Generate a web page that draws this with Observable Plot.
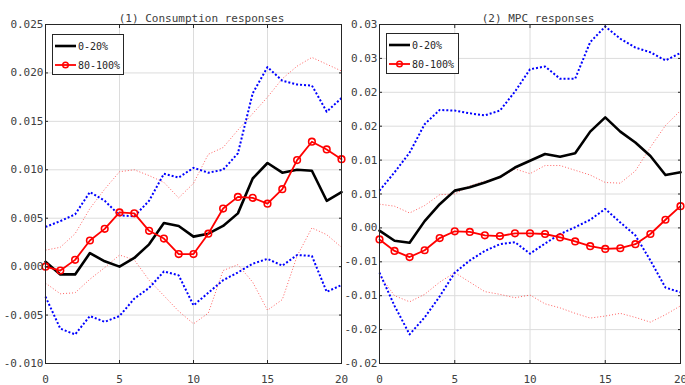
<!DOCTYPE html>
<html>
<head>
<meta charset="utf-8">
<script src="https://cdn.jsdelivr.net/npm/d3@7"></script>
<script src="https://cdn.jsdelivr.net/npm/@observablehq/plot@0.6"></script>
<style>
  html, body { margin: 0; padding: 0; background: #fff; }
  #wrap { position: relative; width: 685px; height: 385px; overflow: hidden; font-family: "DejaVu Sans Mono", monospace; }
  .panel { position: absolute; top: 0; overflow: visible; }
  .legend { position: absolute; background: #fff; border: 1px solid #262626; box-sizing: border-box; font: 10px "DejaVu Sans Mono", monospace; color: #262626; }
  .legend .row { position: absolute; left: 2px; display: flex; align-items: center; height: 14px; white-space: nowrap; }
  .legend svg { display: block; }
</style>
</head>
<body>
<div id="wrap"></div>
<script>
const horizon = [0,1,2,3,4,5,6,7,8,9,10,11,12,13,14,15,16,17,18,19,20];
const xTicks = [0,5,10,15,20];

// Panel 1: Consumption responses
const cons_low = [0.0005,-0.0008,-0.0008,0.0014,0.00055,0.0000,0.0009,0.0023,0.0045,0.0042,0.0031,0.0034,0.0042,0.0055,0.0091,0.0107,0.0097,0.0100,0.0099,0.0068,0.0077];
const cons_low_up = [0.0041,0.0047,0.0054,0.0077,0.0068,0.0053,0.0052,0.0068,0.0096,0.0092,0.0102,0.0097,0.0100,0.0117,0.0179,0.0206,0.0192,0.0188,0.0187,0.0160,0.0174];
const cons_low_dn = [-0.0031,-0.0064,-0.0070,-0.0051,-0.0057,-0.0051,-0.0033,-0.0022,-0.0005,-0.0009,-0.0040,-0.0027,-0.0014,-0.0006,0.0003,0.0008,0.0001,0.0012,0.0011,-0.0026,-0.0019];
const cons_high = [0.0000,-0.0004,0.0007,0.0027,0.0039,0.0056,0.0055,0.0037,0.0029,0.0013,0.0013,0.0034,0.0060,0.0072,0.0071,0.0065,0.0080,0.0110,0.0129,0.0121,0.0111];
const cons_high_up = [0.0017,0.0020,0.0034,0.0060,0.0080,0.0098,0.0100,0.0094,0.0087,0.0071,0.0086,0.0116,0.0123,0.0141,0.0158,0.0175,0.0194,0.0207,0.0216,0.0209,0.0202];
const cons_high_dn = [-0.0017,-0.0028,-0.0027,-0.0013,-0.0001,0.0012,0.0007,-0.0014,-0.0030,-0.0046,-0.0059,-0.0048,-0.0004,0.0002,-0.0016,-0.0045,-0.0034,0.0011,0.0040,0.0033,0.0020];
const consTicks = [-0.010,-0.005,0.000,0.005,0.010,0.015,0.020,0.025];
const consTickLabels = ["-0.010","-0.005","0.000","0.005","0.010","0.015","0.020","0.025"];

// Panel 2: MPC responses
const mpc_low = [-0.0004,-0.0019,-0.0022,0.0010,0.0035,0.0055,0.0060,0.0067,0.0075,0.0089,0.0099,0.0109,0.0105,0.0110,0.0142,0.0163,0.0142,0.0126,0.0106,0.0078,0.0082];
const mpc_low_up = [0.0055,0.0082,0.0111,0.0153,0.0174,0.0173,0.0169,0.0166,0.0173,0.0201,0.0234,0.0238,0.0220,0.0220,0.0274,0.0297,0.0279,0.0266,0.0259,0.0247,0.0258];
const mpc_low_dn = [-0.0066,-0.0115,-0.0157,-0.0132,-0.0101,-0.0066,-0.0048,-0.0034,-0.0024,-0.0021,-0.0038,-0.0023,-0.0009,0.0001,0.0012,0.0028,0.0008,-0.0011,-0.0048,-0.0088,-0.0095];
const mpc_high = [-0.0017,-0.0034,-0.0043,-0.0033,-0.0015,-0.0005,-0.0006,-0.0011,-0.0012,-0.0008,-0.0008,-0.0009,-0.0014,-0.0020,-0.0027,-0.0031,-0.0030,-0.0024,-0.0009,0.0012,0.0032];
const mpc_high_up = [0.0035,0.0032,0.0022,0.0033,0.0049,0.0050,0.0062,0.0069,0.0074,0.0087,0.0080,0.0092,0.0092,0.0085,0.0078,0.0067,0.0066,0.0084,0.0119,0.0151,0.0173];
const mpc_high_dn = [-0.0070,-0.0100,-0.0109,-0.0098,-0.0080,-0.0066,-0.0080,-0.0094,-0.0098,-0.0103,-0.0099,-0.0112,-0.0118,-0.0126,-0.0133,-0.0130,-0.0126,-0.0132,-0.0139,-0.0128,-0.0115];
const mpcTicks = [-0.020,-0.015,-0.010,-0.005,0.000,0.005,0.010,0.015,0.020,0.025,0.030];
const mpcTickLabels = ["-0.02","-0.02","-0.01","-0.01","0.00","0.01","0.01","0.02","0.02","0.03","0.03"];

const titles = ["(1) Consumption responses", "(2) MPC responses"];
const seriesNames = ["0-20%", "80-100%"];

const FONT = "DejaVu Sans Mono, monospace";
const TEXT = "#404040";
const AX = "#262626";

function pts(vals) { return vals.map((v, i) => ({t: horizon[i], v})); }

function panel(o) {
  const redDot = {x: "t", y: "v", stroke: "#ff2020", strokeOpacity: 0.7, strokeWidth: 1, strokeDasharray: "1,2", strokeLinecap: "butt"};
  const blueDot = {x: "t", y: "v", stroke: "#0000ff", strokeWidth: 2, strokeDasharray: "2,2", strokeLinecap: "butt"};
  const yFmt = d => o.labels[o.ticks.findIndex(t => Math.abs(t - d) < 1e-9)];
  return Plot.plot({
    width: o.width, height: 385,
    marginLeft: o.ml, marginRight: o.mr, marginTop: 24, marginBottom: 22,
    style: {fontFamily: FONT, fontSize: "11px", color: TEXT, background: "white", overflow: "visible"},
    x: {domain: [0, 20]},
    y: {domain: o.domain},
    marks: [
      Plot.gridX(xTicks, {stroke: "#dcdcdc", strokeOpacity: 1}),
      Plot.gridY(o.ticks, {stroke: "#dcdcdc", strokeOpacity: 1}),
      Plot.line(pts(o.hiUp), redDot),
      Plot.line(pts(o.hiDn), redDot),
      Plot.line(pts(o.loUp), blueDot),
      Plot.line(pts(o.loDn), blueDot),
      Plot.line(pts(o.lo), {x: "t", y: "v", stroke: "#000", strokeWidth: 2.6}),
      Plot.line(pts(o.hi), {x: "t", y: "v", stroke: "#ff0000", strokeWidth: 1.8}),
      Plot.dot(pts(o.hi), {x: "t", y: "v", r: 3.3, stroke: "#ff0000", strokeWidth: 1.6, fill: "none"}),
      // tick labels
      Plot.axisX(xTicks, {anchor: "bottom", tickSize: 0, tickPadding: 12, label: null, tickFormat: d => String(d), fill: TEXT}),
      Plot.axisY(o.ticks, {anchor: "left", tickSize: 0, tickPadding: 2, label: null, tickFormat: yFmt, fill: TEXT}),
      // inward tick marks on all four sides
      Plot.axisX(xTicks, {anchor: "bottom", tickSize: -3, fill: "none", stroke: AX, label: null}),
      Plot.axisX(xTicks, {anchor: "top", tickSize: -3, fill: "none", stroke: AX, label: null}),
      Plot.axisY(o.ticks, {anchor: "left", tickSize: -3, fill: "none", stroke: AX, label: null}),
      Plot.axisY(o.ticks, {anchor: "right", tickSize: -3, fill: "none", stroke: AX, label: null}),
      Plot.frame({stroke: AX, strokeWidth: 1}),
      Plot.text([o.title], {frameAnchor: "top", dy: -10, dx: 8, fill: TEXT, fontSize: 11, fontFamily: FONT})
    ]
  });
}

const wrap = document.getElementById("wrap");

const p1 = panel({width: 343, ml: 45, mr: 2, domain: [-0.010, 0.025], ticks: consTicks, labels: consTickLabels,
  lo: cons_low, loUp: cons_low_up, loDn: cons_low_dn, hi: cons_high, hiUp: cons_high_up, hiDn: cons_high_dn, title: titles[0]});
const p2 = panel({width: 342, ml: 36, mr: 5, domain: [-0.020, 0.030], ticks: mpcTicks, labels: mpcTickLabels,
  lo: mpc_low, loUp: mpc_low_up, loDn: mpc_low_dn, hi: mpc_high, hiUp: mpc_high_up, hiDn: mpc_high_dn, title: titles[1]});

[[p2, 343], [p1, 0]].forEach(([p, left]) => {
  p.classList.add("panel");
  p.style.left = left + "px";
  wrap.appendChild(p);
});

function legend(left, top, width) {
  const d = document.createElement("div");
  d.className = "legend";
  d.style.left = left + "px"; d.style.top = top + "px";
  d.style.width = width + "px"; d.style.height = "41px";
  const rows = [
    {name: seriesNames[0], y: 4, svg: '<svg width="21" height="10"><line x1="0" y1="5" x2="21" y2="5" stroke="#000" stroke-width="2.6"/></svg>'},
    {name: seriesNames[1], y: 23, svg: '<svg width="21" height="10"><line x1="0" y1="5" x2="21" y2="5" stroke="#f00" stroke-width="1.8"/><circle cx="10.5" cy="5" r="2.8" fill="none" stroke="#f00" stroke-width="1.4"/></svg>'}
  ];
  rows.forEach(r => {
    const row = document.createElement("div");
    row.className = "row";
    row.style.top = r.y + "px";
    row.innerHTML = r.svg + '<span style="margin-left:2px">' + r.name + '</span>';
    d.appendChild(row);
  });
  wrap.appendChild(d);
}
legend(52, 34, 72);
legend(386, 33, 73);
</script>
</body>
</html>
